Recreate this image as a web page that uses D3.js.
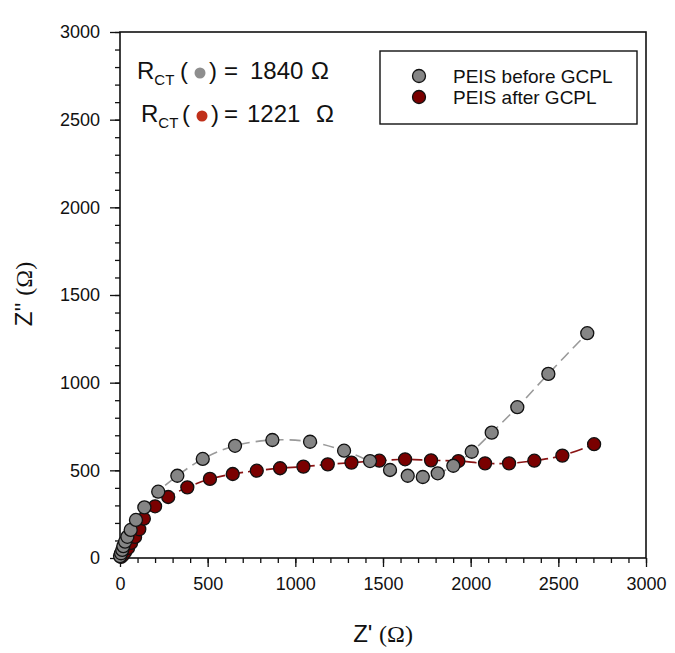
<!DOCTYPE html>
<html>
<head>
<meta charset="utf-8">
<script src="https://cdn.jsdelivr.net/npm/d3@7"></script>
<style>
  body { margin: 0; background: #fff; }
  text { font-family: "Liberation Sans", Arial, sans-serif; }
</style>
</head>
<body>
<div id="chart"></div>
<script>
// data (Z' , Z'' in ohm)
const beforeX = [0, 6, 13, 19, 29, 42, 61, 91, 139, 218, 327, 472, 656, 869, 1084, 1278, 1426, 1540, 1641, 1727, 1812, 1901, 2006, 2120, 2266, 2443, 2665];
const beforeY = [11, 27, 46, 68, 93, 121, 160, 217, 289, 378, 469, 565, 640, 673, 663, 612, 553, 502, 469, 462, 483, 526, 606, 715, 860, 1050, 1282];
const afterX = [6, 17, 29, 46, 63, 86, 110, 136, 200, 275, 384, 513, 643, 780, 913, 1046, 1185, 1320, 1479, 1626, 1774, 1930, 2082, 2219, 2363, 2523, 2704];
const afterY = [6, 17, 34, 57, 86, 120, 164, 224, 295, 348, 403, 451, 479, 498, 512, 521, 534, 544, 555, 563, 557, 553, 540, 540, 555, 584, 649];
const majorTicks = [0, 500, 1000, 1500, 2000, 2500, 3000];
const minorTicks = d3.range(0, 3001, 100);
const seriesNames = ["PEIS before GCPL", "PEIS after GCPL"];
const rctValues = ["1840", "1221"];

const W = 675, H = 653;
const svg = d3.select('#chart')
              .append('svg')
              .attr('width', W)
              .attr('height', H);

const x = d3.scaleLinear().domain([0, 3000]).range([120, 646]);
const y = d3.scaleLinear().domain([0, 3000]).range([558, 32]);

// minor ticks
svg.append('g')
  .attr('transform', 'translate(0,558)')
  .call(d3.axisBottom(x).tickValues(minorTicks).tickSize(5).tickFormat(''))
  .call(g => g.select('.domain').remove());
svg.append('g')
  .attr('transform', 'translate(120,0)')
  .call(d3.axisLeft(y).tickValues(minorTicks).tickSize(5).tickFormat(''))
  .call(g => g.select('.domain').remove());

// major ticks + labels
const fmt = d3.format('d');
const xAxis = svg.append('g')
  .attr('transform', 'translate(0,558)')
  .call(d3.axisBottom(x).tickValues(majorTicks).tickFormat(fmt).tickSize(9).tickPadding(10).tickSizeOuter(0));
const yAxis = svg.append('g')
  .attr('transform', 'translate(120,0)')
  .call(d3.axisLeft(y).tickValues(majorTicks).tickFormat(fmt).tickSize(10).tickPadding(10).tickSizeOuter(0));
[xAxis, yAxis].forEach(g => {
  g.selectAll('text').attr('font-size', 18).attr('font-family', '"Liberation Sans", Arial, sans-serif').attr('fill', '#111');
  g.select('.domain').remove();
});
svg.selectAll('.tick line').attr('stroke', '#111').attr('stroke-width', 1.3);

// frame
svg.append('rect')
  .attr('x', x(0)).attr('y', y(3000))
  .attr('width', x(3000) - x(0)).attr('height', y(0) - y(3000))
  .attr('fill', 'none').attr('stroke', '#111').attr('stroke-width', 1.6);

// lines
const line = d3.line().x(d => x(d[0])).y(d => y(d[1])).curve(d3.curveCatmullRom.alpha(0.5));
const before = beforeX.map((v, i) => [v, beforeY[i]]);
const after = afterX.map((v, i) => [v, afterY[i]]);

svg.append('path').datum(before)
  .attr('d', line).attr('fill', 'none')
  .attr('stroke', '#9a9a9a').attr('stroke-width', 1.6).attr('stroke-dasharray', '11,6');
svg.append('path').datum(after)
  .attr('d', line).attr('fill', 'none')
  .attr('stroke', '#8a1414').attr('stroke-width', 1.6).attr('stroke-dasharray', '13,5');

// points
svg.selectAll('circle.after')
  .data(after)
  .enter()
  .append('circle')
  .attr('class', 'after')
  .attr('cx', d => x(d[0]))
  .attr('cy', d => y(d[1]))
  .attr('r', 6.5)
  .attr('fill', '#7a0000')
  .attr('stroke', '#111')
  .attr('stroke-width', 1.3);
svg.selectAll('circle.before')
  .data(before)
  .enter()
  .append('circle')
  .attr('class', 'before')
  .attr('cx', d => x(d[0]))
  .attr('cy', d => y(d[1]))
  .attr('r', 6.5)
  .attr('fill', '#858585')
  .attr('stroke', '#111')
  .attr('stroke-width', 1.3);

// axis titles
const xt = svg.append('text')
  .attr('x', 383).attr('y', 642)
  .attr('text-anchor', 'middle')
  .attr('font-size', 24).attr('fill', '#111');
xt.append('tspan').attr('font-family', '"Liberation Sans", Arial, sans-serif').text("Z' ");
xt.append('tspan').attr('font-family', '"Liberation Serif", "Times New Roman", serif').text('(Ω)');

const yt = svg.append('text')
  .attr('transform', 'translate(32,294) rotate(-90)')
  .attr('text-anchor', 'middle')
  .attr('font-size', 24).attr('fill', '#111');
yt.append('tspan').attr('font-family', '"Liberation Sans", Arial, sans-serif').text("Z'' ");
yt.append('tspan').attr('font-family', '"Liberation Serif", "Times New Roman", serif').text('(Ω)');

// legend
svg.append('rect')
  .attr('x', 380).attr('y', 51).attr('width', 257).attr('height', 73)
  .attr('fill', '#fff').attr('stroke', '#111').attr('stroke-width', 1.4);
const legColors = ['#858585', '#7a0000'];
seriesNames.forEach((name, i) => {
  svg.append('circle')
    .attr('cx', 419).attr('cy', 76 + i * 21).attr('r', 6.5)
    .attr('fill', legColors[i]).attr('stroke', '#111').attr('stroke-width', 1.3);
  svg.append('text')
    .attr('x', 453).attr('y', 83 + i * 20.5)
    .attr('font-size', 19).attr('fill', '#111')
    .text(name);
});

// R_CT annotations
const ann = [
  { rx: 137, base: 79, open: 180, dotX: 200, dotY: 73, dotC: '#8e8e8e', close: 209, eq: 224, num: 250, om: 311 },
  { rx: 141, base: 122, open: 182, dotX: 202, dotY: 116, dotC: '#c0301a', close: 211, eq: 224, num: 247, om: 316 }
];
const annFont = 'Lato, "Open Sans", sans-serif';
ann.forEach((a, i) => {
  const t = svg.append('text').attr('x', a.rx).attr('y', a.base)
    .attr('font-family', annFont).attr('font-size', 24).attr('fill', '#111');
  t.append('tspan').text('R');
  t.append('tspan').attr('font-size', 15).attr('dy', 6).text('CT');
  svg.append('text').attr('x', a.open).attr('y', a.base)
    .attr('font-family', annFont).attr('font-size', 24).attr('fill', '#111').text('(');
  svg.append('circle').attr('cx', a.dotX).attr('cy', a.dotY).attr('r', 5.5).attr('fill', a.dotC);
  svg.append('text').attr('x', a.close).attr('y', a.base)
    .attr('font-family', annFont).attr('font-size', 24).attr('fill', '#111').text(')');
  svg.append('text').attr('x', a.eq).attr('y', a.base)
    .attr('font-family', annFont).attr('font-size', 24).attr('fill', '#111').text('=');
  svg.append('text').attr('x', a.num).attr('y', a.base)
    .attr('font-family', annFont).attr('font-size', 24).attr('fill', '#111').text(rctValues[i]);
  svg.append('text').attr('x', a.om).attr('y', a.base)
    .attr('font-family', annFont).attr('font-size', 24).attr('fill', '#111').text('Ω');
});
</script>
</body>
</html>
